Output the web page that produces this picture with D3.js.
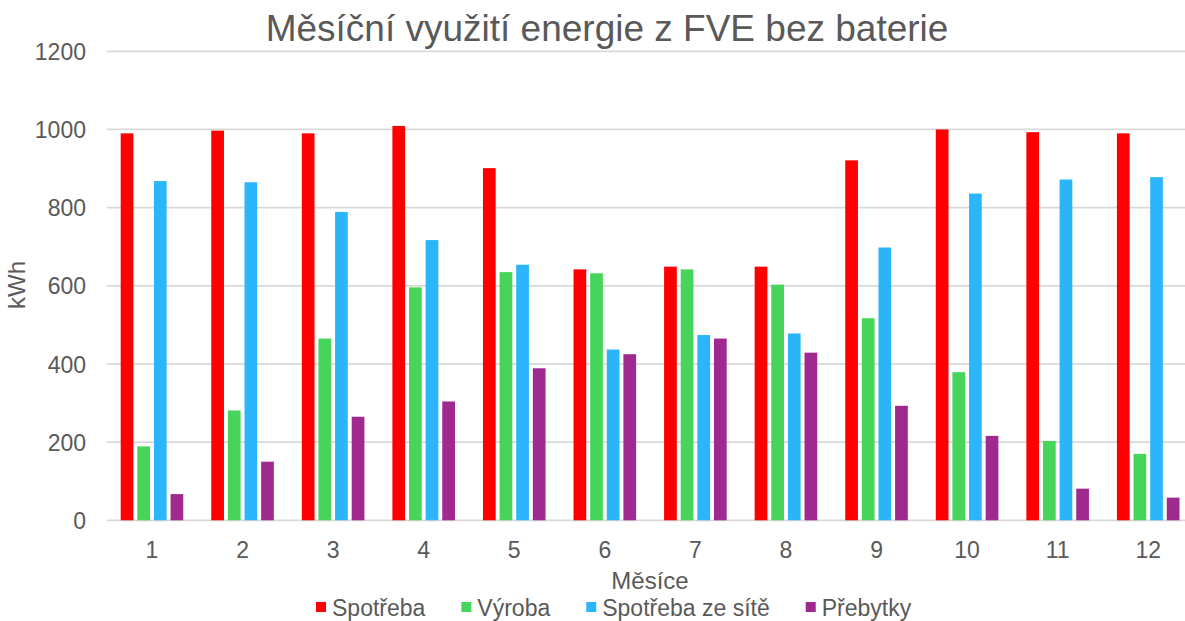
<!DOCTYPE html>
<html>
<head>
<meta charset="utf-8">
<script src="https://cdn.jsdelivr.net/npm/d3@7"></script>
<style>
  html, body { margin: 0; padding: 0; background: #fff; }
  svg { display: block; font-family: "Liberation Sans", Arial, sans-serif; }
</style>
</head>
<body>
<svg id="chart" width="1185" height="621"></svg>
<script>
const months = ["1","2","3","4","5","6","7","8","9","10","11","12"];
const seriesNames = ["Spotřeba", "Výroba", "Spotřeba ze sítě", "Přebytky"];
const spotreba = [990, 997, 990, 1009, 901, 642, 649, 649, 921, 1000, 993, 990];
const vyroba = [189, 281, 465, 596, 635, 632, 642, 603, 517, 379, 203, 170];
const spotrebaSit = [868, 865, 789, 717, 654, 437, 474, 478, 698, 836, 872, 878];
const prebytky = [67, 150, 265, 304, 389, 425, 465, 429, 293, 216, 81, 58];
const yTicks = [0, 200, 400, 600, 800, 1000, 1200];
const colors = ["#FF0000", "#47D45A", "#2BB6FB", "#A0298F"];

const seriesValues = [spotreba, vyroba, spotrebaSit, prebytky];
const svg = d3.select("#chart");
const textColor = "#595959";

const x0 = d3.scaleBand().domain(months).range([106.7, 1193.5]).paddingInner(0.309).paddingOuter(0.1545);
const x1 = d3.scaleBand().domain(seriesNames).range([0, x0.bandwidth()]).paddingInner(0.235).paddingOuter(0);
const y = d3.scaleLinear().domain([0, 1200]).range([520.3, 51.3]);

// gridlines
svg.append("g")
  .selectAll("line")
  .data(yTicks)
  .join("line")
  .attr("x1", 106.7).attr("x2", 1185)
  .attr("y1", d => y(d)).attr("y2", d => y(d))
  .attr("stroke", "#d9d9d9").attr("stroke-width", 1.8);

// y axis labels
const yAxis = svg.append("g").attr("transform", "translate(86,0)")
  .call(d3.axisLeft(y).tickValues(yTicks).tickSize(0).tickPadding(0).tickFormat(d3.format("d")));
yAxis.select(".domain").remove();
yAxis.selectAll("text").attr("fill", textColor).attr("font-size", 23)
  .attr("font-family", "'Liberation Sans', Arial, sans-serif").attr("dy", "0.35em");

// bars
const groups = svg.append("g").selectAll("g")
  .data(months)
  .join("g")
  .attr("transform", d => `translate(${x0(d)},0)`);
groups.selectAll("rect")
  .data((m, i) => seriesNames.map((s, k) => ({ s, v: seriesValues[k][i], c: colors[k] })))
  .join("rect")
  .attr("x", d => x1(d.s))
  .attr("width", x1.bandwidth())
  .attr("y", d => y(d.v))
  .attr("height", d => y(0) - y(d.v))
  .attr("fill", d => d.c);

// x axis labels
const xAxis = svg.append("g").attr("transform", `translate(0,${y(0)})`)
  .call(d3.axisBottom(x0).tickSize(0).tickPadding(21));
xAxis.select(".domain").remove();
xAxis.selectAll("text").attr("fill", textColor).attr("font-size", 23)
  .attr("font-family", "'Liberation Sans', Arial, sans-serif");

// title
svg.append("text").attr("x", 607).attr("y", 41).attr("text-anchor", "middle")
  .attr("font-size", 37).attr("fill", textColor).text("Měsíční využití energie z FVE bez baterie");

// axis titles
svg.append("text").attr("x", 650).attr("y", 589).attr("text-anchor", "middle")
  .attr("font-size", 24).attr("fill", textColor).text("Měsíce");
svg.append("text").attr("transform", "translate(25,285) rotate(-90)").attr("text-anchor", "middle")
  .attr("font-size", 24).attr("fill", textColor).text("kWh");

// legend
const legend = svg.append("g");
let lx = 316;
seriesNames.forEach((name, k) => {
  legend.append("rect").attr("x", lx).attr("y", 602).attr("width", 10).attr("height", 10).attr("fill", colors[k]);
  const t = legend.append("text").attr("x", lx + 16).attr("y", 616)
    .attr("font-size", 23).attr("fill", textColor).text(name);
  lx += 16 + t.node().getComputedTextLength() + 36;
});
</script>
</body>
</html>
